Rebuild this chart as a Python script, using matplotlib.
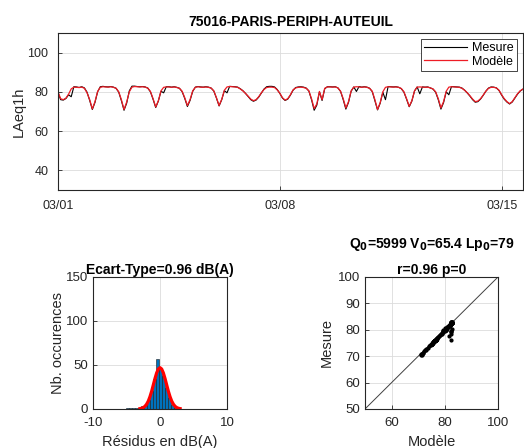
import numpy as np
import matplotlib.pyplot as plt

plt.rcParams['font.family'] = ['Liberation Sans', 'DejaVu Sans']
plt.rcParams['axes.unicode_minus'] = False
plt.rcParams['axes.edgecolor'] = '#262626'
plt.rcParams['xtick.color'] = '#262626'
plt.rcParams['ytick.color'] = '#262626'
plt.rcParams['axes.labelcolor'] = '#262626'
plt.rcParams['xtick.direction'] = 'in'
plt.rcParams['ytick.direction'] = 'in'

# LAeq1h toutes les 2 heures depuis le 03/01 00h (une ligne = un jour, h0..h22)
modele = [
    80.0, 76.5, 76.0, 76.8, 78.8, 81.5, 82.4, 82.3, 82.2, 82.4, 81.8, 79.5,  # 03/01
    76.0, 71.3, 75.0, 80.2, 82.3, 82.6, 82.5, 82.4, 82.6, 82.3, 81.8, 80.0,  # 03/02
    76.0, 71.0, 74.8, 80.0, 82.4, 82.7, 82.6, 82.5, 82.6, 82.4, 81.9, 80.2,  # 03/03
    76.5, 72.3, 75.5, 80.5, 82.3, 82.5, 82.5, 82.3, 82.5, 82.2, 81.8, 80.3,  # 03/04
    77.0, 73.0, 76.0, 80.5, 82.3, 82.6, 82.4, 82.3, 82.5, 82.3, 81.9, 80.5,  # 03/05
    77.0, 73.0, 76.2, 80.8, 82.5, 82.7, 82.6, 82.5, 82.3, 81.5, 80.5, 79.2,  # 03/06
    77.8, 76.3, 75.5, 76.0, 77.5, 79.5, 81.2, 82.2, 82.4, 82.4, 82.2, 81.0,  # 03/07
    79.3, 77.0, 75.8, 76.5, 78.5, 81.0, 82.0, 82.3, 82.4, 82.2, 81.8, 80.5,  # 03/08
    76.5, 71.5, 73.8, 80.2, 76.0, 81.8, 82.5, 82.5, 82.4, 82.5, 82.0, 80.3,  # 03/09
    76.5, 71.8, 75.0, 80.5, 82.4, 82.6, 82.5, 82.3, 82.5, 82.3, 81.8, 80.3,  # 03/10
    76.0, 71.0, 74.5, 80.0, 82.3, 82.6, 82.5, 82.4, 82.5, 82.3, 81.7, 80.0,  # 03/11
    76.5, 72.6, 75.5, 80.5, 82.4, 82.5, 82.4, 82.3, 82.4, 82.0, 81.5, 80.0,  # 03/12
    76.5, 71.8, 75.0, 80.3, 82.4, 82.6, 82.5, 82.4, 82.3, 81.8, 80.8, 79.5,  # 03/13
    78.0, 76.3, 75.0, 75.3, 76.5, 78.3, 80.3, 81.8, 82.3, 82.3, 82.0, 80.8,  # 03/14
    78.5, 76.5, 75.0, 74.0, 75.0, 77.0, 79.0, 80.5, 81.4,                    # 03/15
]
mesure = [
    79.6, 76.0, 75.8, 76.6, 78.5, 77.5, 82.6, 82.5, 82.2, 82.6, 82.0, 79.8,
    75.6, 71.0, 74.6, 80.0, 82.6, 82.8, 82.6, 82.5, 82.7, 82.4, 81.8, 79.8,
    75.5, 70.6, 74.2, 80.5, 82.9, 82.9, 82.7, 82.6, 82.7, 82.5, 81.9, 80.0,
    76.2, 72.0, 75.3, 80.3, 79.5, 82.6, 82.6, 82.4, 82.6, 82.3, 81.8, 80.1,
    76.6, 72.5, 75.6, 80.2, 82.4, 82.7, 82.5, 82.4, 82.6, 82.4, 81.9, 80.4,
    76.8, 72.8, 76.0, 80.6, 79.5, 82.8, 82.7, 82.6, 82.4, 81.6, 80.6, 79.2,
    77.6, 76.0, 75.2, 75.8, 77.3, 79.4, 81.4, 82.6, 82.8, 82.8, 82.5, 81.2,
    79.2, 76.8, 75.6, 76.3, 78.3, 80.8, 82.2, 82.5, 82.6, 82.4, 81.9, 80.4,
    76.0, 70.6, 73.2, 80.0, 75.6, 81.6, 82.6, 82.6, 82.5, 82.6, 82.0, 80.2,
    76.0, 71.2, 74.6, 80.3, 82.5, 80.2, 82.7, 82.4, 82.6, 82.4, 81.8, 80.1,
    75.5, 70.8, 74.2, 79.8, 76.0, 82.7, 82.6, 82.5, 82.6, 82.3, 81.6, 79.8,
    76.2, 72.4, 75.3, 80.4, 82.5, 79.0, 82.5, 82.4, 82.5, 82.0, 81.4, 79.8,
    76.0, 71.2, 74.5, 80.0, 78.5, 82.7, 82.6, 82.5, 82.4, 81.9, 80.8, 79.4,
    77.8, 76.0, 74.7, 75.0, 76.3, 78.2, 80.3, 81.9, 82.5, 82.4, 82.0, 80.7,
    78.3, 76.2, 74.8, 73.8, 74.8, 76.8, 78.8, 80.4, 81.3,
]
pas_heures = 2
date_ticks = [0, 7, 14]
date_labels = ['03/01', '03/08', '03/15']

# histogramme des residus (centres de classes et effectifs)
res_centres = [-4.85, -4.4, -3.95, -3.5, -3.05, -2.6, -2.15, -1.7, -1.25, -0.8,
               -0.35, 0.1, 0.55, 1.0, 1.45, 1.9, 2.35]
res_counts = [1, 1, 1, 1, 1, 3, 5, 10, 20, 34, 57, 45, 38, 24, 12, 4, 1]
fit_x = [-3.0, -2.75, -2.5, -2.25, -2.0, -1.75, -1.5, -1.25, -1.0, -0.75, -0.5, -0.25, 0.0,
         0.25, 0.5, 0.75, 1.0, 1.25, 1.5, 1.75, 2.0, 2.25, 2.5, 2.75, 3.0]
fit_y = [0.4, 0.8, 1.6, 3.0, 5.4, 8.9, 13.9, 20.1, 27.3, 34.6, 41.0, 45.4, 47.0,
         45.4, 41.0, 34.6, 27.3, 20.1, 13.9, 8.9, 5.4, 3.0, 1.6, 0.8, 0.4]

titre = '75016-PARIS-PERIPH-AUTEUIL'
ecart_type = 0.96
Q0, V0, Lp0 = 5999, 65.4, 79
r_val, p_val = 0.96, 0

fig = plt.figure(figsize=(5.24, 4.48), dpi=100)

# 1) serie temporelle
t = np.arange(len(modele)) * pas_heures / 24.0
ax1 = fig.add_axes([0.1107, 0.576, 0.887, 0.3504])
ax1.plot(t, mesure, color='black', lw=0.8, label='Mesure')
ax1.plot(t, modele, color='#ee1c25', lw=0.9, label='Modèle')
ax1.set_xlim(0, 14.667)
ax1.set_ylim(30, 110)
ax1.set_yticks([40, 60, 80, 100])
ax1.set_xticks(date_ticks)
ax1.set_xticklabels(date_labels)
ax1.set_ylabel('LAeq1h', fontsize=10.5, labelpad=1)
ax1.set_title(titre, fontsize=10, fontweight='bold', pad=5)
ax1.grid(True, color='#dcdcdc', lw=0.6)
ax1.tick_params(labelsize=9, length=3, width=0.6, pad=7)
leg = ax1.legend(loc='upper right', fontsize=9, fancybox=False, edgecolor='#262626',
                 framealpha=1, handlelength=3.4, borderaxespad=0.5, borderpad=0.25,
                 labelspacing=0.1, handletextpad=0.4)
leg.get_frame().set_linewidth(0.6)

# 2) histogramme des residus
ax2 = fig.add_axes([0.1775, 0.0871, 0.2557, 0.2946])
ax2.bar(res_centres, res_counts, width=0.45, color='#0072BD', edgecolor='#1a1a1a', lw=0.4)
ax2.plot(fit_x, fit_y, color='red', lw=2.3)
ax2.set_xlim(-10, 10)
ax2.set_ylim(0, 150)
ax2.set_xticks([-10, 0, 10])
ax2.set_yticks([0, 50, 100, 150])
ax2.grid(True, color='#dcdcdc', lw=0.6)
ax2.set_axisbelow(True)
ax2.tick_params(labelsize=9.5, length=3, width=0.6)
ax2.tick_params(axis='x', pad=6)
ax2.set_xlabel('Résidus en dB(A)', fontsize=10.5, labelpad=4)
ax2.set_ylabel('Nb. occurences', fontsize=10.5, labelpad=1)
ax2.set_title('Ecart-Type=%.2f dB(A)' % ecart_type, fontsize=10, fontweight='bold', pad=2)

# 3) mesure vs modele
ax3 = fig.add_axes([0.6966, 0.0871, 0.2538, 0.2946])
ax3.plot([50, 100], [50, 100], color='#404040', lw=0.7)
ax3.plot(modele, mesure, '.', color='black', ms=4)
ax3.set_xlim(50, 100)
ax3.set_ylim(50, 100)
ax3.set_xticks([60, 80, 100])
ax3.set_yticks([50, 60, 70, 80, 90, 100])
ax3.grid(True, color='#dcdcdc', lw=0.6)
ax3.set_axisbelow(True)
ax3.tick_params(labelsize=9.5, length=3, width=0.6)
ax3.tick_params(axis='x', pad=6)
ax3.set_xlabel('Modèle', fontsize=10.5, labelpad=4)
ax3.set_ylabel('Mesure', fontsize=10.5, labelpad=3)
ax3.set_title('r=%.2f p=%d' % (r_val, p_val), fontsize=10, fontweight='bold', pad=2)
ax3.text(0.5, 1.245, r'Q$_{\mathbf{0}}$=%d V$_{\mathbf{0}}$=%.1f Lp$_{\mathbf{0}}$=%d' % (Q0, V0, Lp0),
         transform=ax3.transAxes, ha='center', va='center', fontsize=10, fontweight='bold')

fig.savefig('out.png', dpi=100)
